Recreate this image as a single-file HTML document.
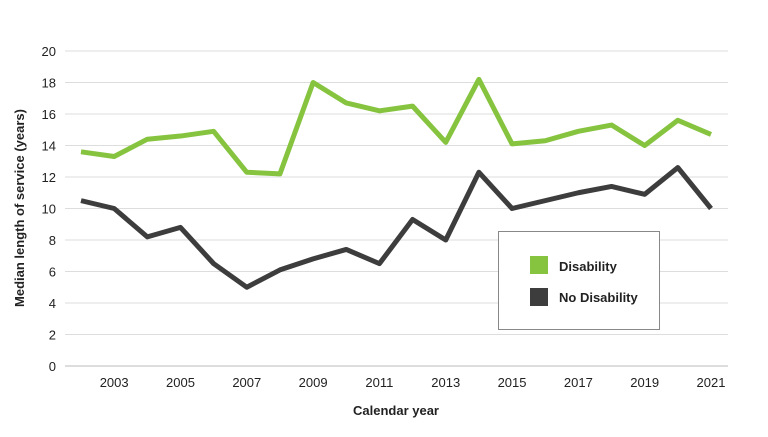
<!DOCTYPE html>
<html><head><meta charset="utf-8"><style>
body{margin:0;background:#fff;font-family:"Liberation Sans",sans-serif;}
svg text{font-family:"Liberation Sans",sans-serif;fill:#222;}
</style></head><body>
<svg width="768" height="432" id="chart"></svg>
<script>
const years=[2002,2003,2004,2005,2006,2007,2008,2009,2010,2011,2012,2013,2014,2015,2016,2017,2018,2019,2020,2021];
const disability=[13.6,13.3,14.4,14.6,14.9,12.3,12.2,18.0,16.7,16.2,16.5,14.2,18.2,14.1,14.3,14.9,15.3,14.0,15.6,14.7];
const noDisability=[10.5,10.0,8.2,8.8,6.5,5.0,6.1,6.8,7.4,6.5,9.3,8.0,12.3,10.0,10.5,11.0,11.4,10.9,12.6,10.0];
const yTicks=[0,2,4,6,8,10,12,14,16,18,20];
const xTickLabels=[2003,2005,2007,2009,2011,2013,2015,2017,2019,2021];
const NS="http://www.w3.org/2000/svg";
const svg=document.getElementById('chart');
const x=yr=>81+(yr-2002)*(711-81)/19;
const y=v=>366-v*15.75;
function el(t,a){const e=document.createElementNS(NS,t);for(const k in a)e.setAttribute(k,a[k]);svg.appendChild(e);return e;}
yTicks.forEach(t=>{
 const g=el('line',{x1:65,x2:728,y1:y(t),y2:y(t),stroke:t===0?'#bbb':'#ddd','stroke-width':1});
 
 
 const tx=el('text',{x:56,y:y(t)+5,'text-anchor':'end','font-size':13});
 tx.textContent=t;
 
 
});
xTickLabels.forEach(yr=>{
 const tx=el('text',{x:x(yr),y:387,'text-anchor':'middle','font-size':13});
 tx.textContent=yr;
 
 
});
function series(vals,color,name){
 const p=el('polyline',{points:vals.map((v,i)=>x(years[i])+','+y(v)).join(' '),fill:'none',stroke:color,'stroke-width':5,'stroke-linejoin':'round'});
 
 
}
series(noDisability,'#3d3d3d','no-disability-line');
series(disability,'#86c440','disability-line');
</script>
<svg style="position:absolute;left:0;top:0" width="768" height="432">
<text transform="translate(24,208) rotate(-90)" text-anchor="middle" font-size="13" font-weight="bold" font-family="Liberation Sans" fill="#222">Median length of service (years)</text>
<text x="396" y="415" text-anchor="middle" font-size="13" font-weight="bold" font-family="Liberation Sans" fill="#222">Calendar year</text>
<g>
<rect x="498.5" y="231.5" width="161" height="98" fill="#fff" stroke="#888"/>
<rect x="530" y="256" width="18" height="18" fill="#86c440"/>
<text x="559" y="271" font-size="13" font-weight="bold" font-family="Liberation Sans" fill="#222">Disability</text>
<rect x="530" y="288" width="18" height="18" fill="#3d3d3d"/>
<text x="559" y="302" font-size="13" font-weight="bold" font-family="Liberation Sans" fill="#222">No Disability</text>
</g>
</svg>
</body></html>
